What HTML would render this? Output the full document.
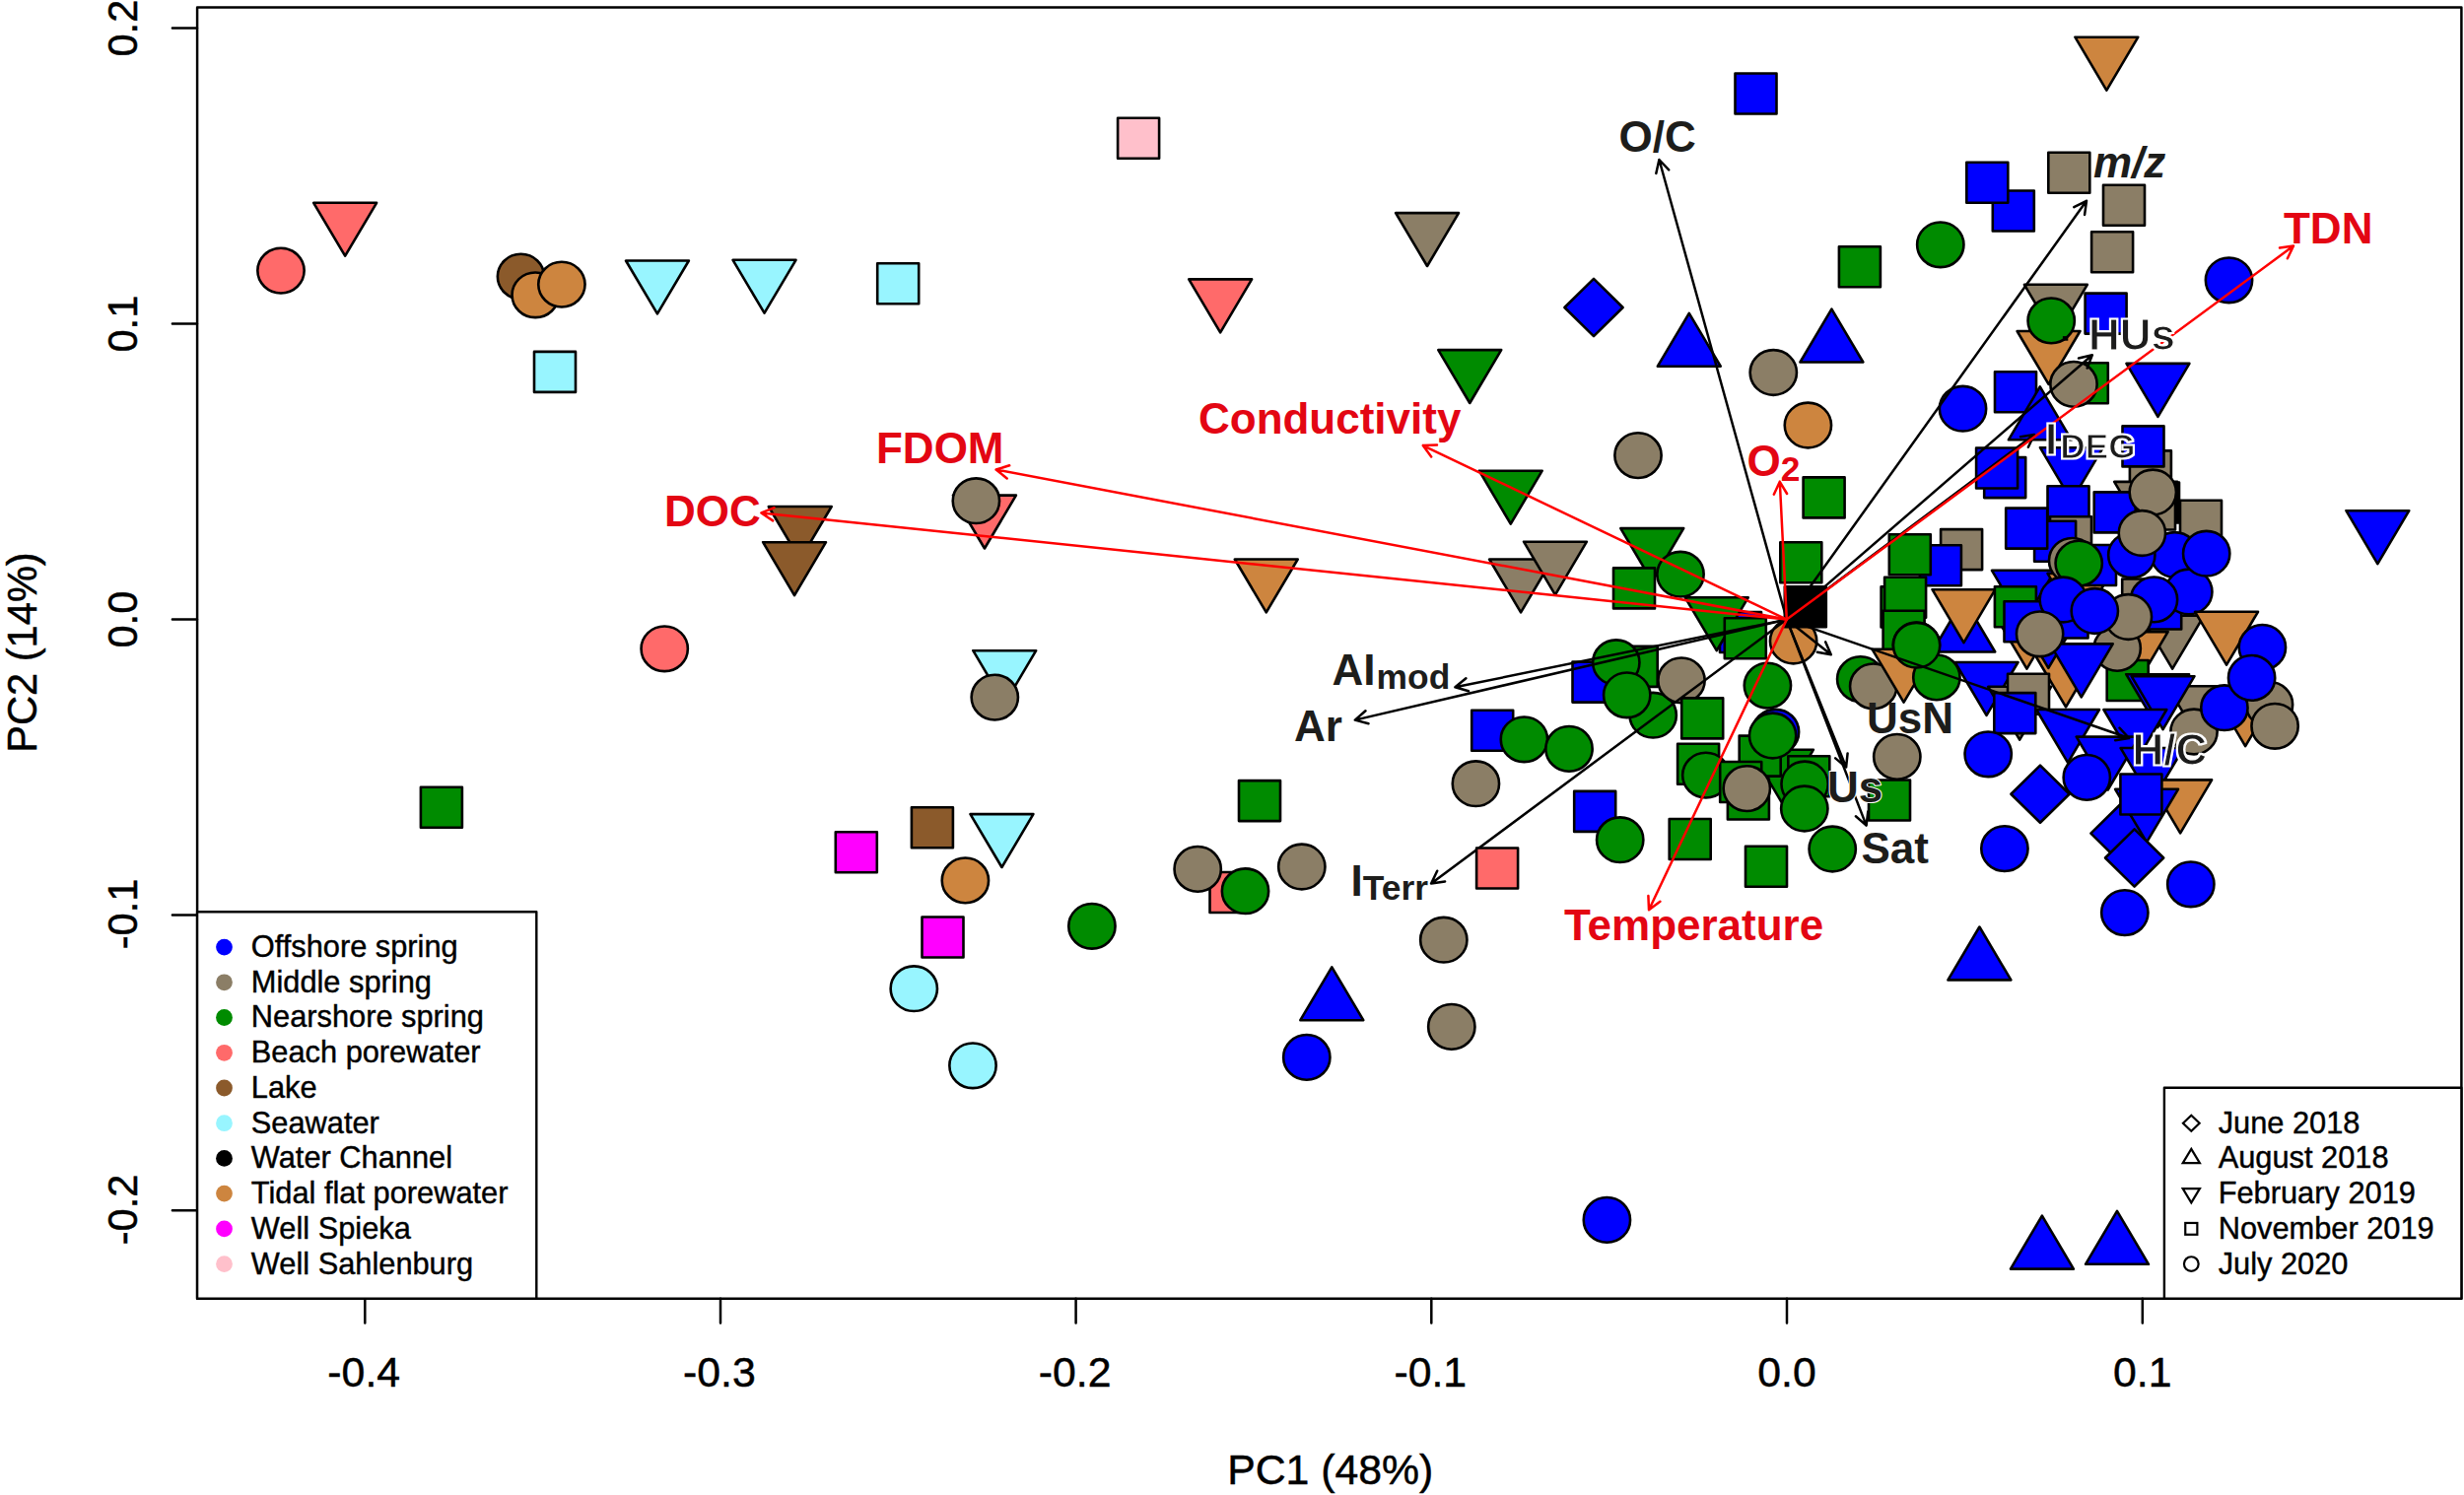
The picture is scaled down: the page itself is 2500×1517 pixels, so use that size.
<!DOCTYPE html>
<html><head><meta charset="utf-8"><title>PCA biplot</title>
<style>
html,body{margin:0;padding:0;background:#fff}
svg{display:block}
text{font-family:"Liberation Sans",Arial,Helvetica,sans-serif}
.ax{font-size:41.6px;fill:#000;stroke:#000;stroke-width:.45px}
.lg{font-size:30.1px;fill:#000;stroke:#000;stroke-width:.4px}
.b{font-weight:bold;font-size:42.8px}
.sub{font-weight:bold;font-size:33px}
.h1{stroke:#fff;stroke-width:2.8px;stroke-linejoin:round}
.h2{stroke:#fff;stroke-width:1.15px}
.h0{stroke:#fff;stroke-width:2px;stroke-linejoin:round;paint-order:stroke fill}
</style></head><body>
<svg width="2500" height="1517" viewBox="0 0 2500 1517">
<defs><filter id="hl" x="-10%" y="-25%" width="120%" height="150%"><feMorphology in="SourceAlpha" operator="dilate" radius="0.9" result="d"/><feFlood flood-color="#fff"/><feComposite in2="d" operator="in"/><feMerge><feMergeNode/><feMergeNode in="SourceGraphic"/></feMerge></filter></defs>
<rect width="2500" height="1517" fill="#fff"/>
<g stroke="#000" stroke-width="2.6" stroke-linejoin="round">
<ellipse cx="285.0" cy="274.6" rx="23.65" ry="22.85" fill="#FF6A6A"/>
<path d="M318.2 205.8h63.9l-31.95 53.9z" fill="#FF6A6A"/>
<ellipse cx="528.5" cy="280.6" rx="23.65" ry="22.85" fill="#8B5A2B"/>
<ellipse cx="543.2" cy="299.3" rx="23.65" ry="22.85" fill="#CD853F"/>
<ellipse cx="569.9" cy="288.6" rx="23.65" ry="22.85" fill="#CD853F"/>
<path d="M635.0 264.5h63.9l-31.95 53.9z" fill="#98F5FF"/>
<path d="M743.6 263.8h63.9l-31.95 53.9z" fill="#98F5FF"/>
<rect x="890.2" y="267.3" width="42.0" height="41.0" fill="#98F5FF"/>
<rect x="542.0" y="356.9" width="42.0" height="41.0" fill="#98F5FF"/>
<path d="M779.8 514.0h63.9l-31.95 53.9z" fill="#8B5A2B"/>
<path d="M774.1 550.2h63.9l-31.95 53.9z" fill="#8B5A2B"/>
<path d="M967.0 502.6h63.9l-31.95 53.9z" fill="#FF6A6A"/>
<ellipse cx="990.4" cy="508.2" rx="23.65" ry="22.85" fill="#8B7E66"/>
<ellipse cx="674.2" cy="658.3" rx="23.65" ry="22.85" fill="#FF6A6A"/>
<rect x="426.9" y="798.8" width="42.0" height="41.0" fill="#008B00"/>
<rect x="847.8" y="844.3" width="42.0" height="41.0" fill="#FF00FF"/>
<rect x="924.9" y="819.3" width="42.0" height="41.0" fill="#8B5A2B"/>
<ellipse cx="979.4" cy="893.4" rx="23.65" ry="22.85" fill="#CD853F"/>
<rect x="935.5" y="930.5" width="42.0" height="41.0" fill="#FF00FF"/>
<ellipse cx="927.3" cy="1003.2" rx="23.65" ry="22.85" fill="#98F5FF"/>
<ellipse cx="987.0" cy="1081.3" rx="23.65" ry="22.85" fill="#98F5FF"/>
<path d="M987.3 660.2h63.9l-31.95 53.9z" fill="#98F5FF"/>
<ellipse cx="1009.3" cy="707.6" rx="23.65" ry="22.85" fill="#8B7E66"/>
<path d="M984.5 826.1h63.9l-31.95 53.9z" fill="#98F5FF"/>
<ellipse cx="1107.9" cy="939.8" rx="23.65" ry="22.85" fill="#008B00"/>
<path d="M1351.3 981.3l31.95 53.9h-63.9z" fill="#0000FF"/>
<ellipse cx="1325.8" cy="1072.9" rx="23.65" ry="22.85" fill="#0000FF"/>
<ellipse cx="1464.8" cy="953.7" rx="23.65" ry="22.85" fill="#8B7E66"/>
<ellipse cx="1472.8" cy="1041.9" rx="23.65" ry="22.85" fill="#8B7E66"/>
<ellipse cx="1630.4" cy="1237.9" rx="23.65" ry="22.85" fill="#0000FF"/>
<path d="M1252.8 567.5h63.9l-31.95 53.9z" fill="#CD853F"/>
<rect x="1257.0" y="792.1" width="42.0" height="41.0" fill="#008B00"/>
<rect x="1227.5" y="885.0" width="42.0" height="41.0" fill="#FF6A6A"/>
<ellipse cx="1215.2" cy="881.9" rx="23.65" ry="22.85" fill="#8B7E66"/>
<ellipse cx="1263.5" cy="904.2" rx="23.65" ry="22.85" fill="#008B00"/>
<ellipse cx="1320.8" cy="879.5" rx="23.65" ry="22.85" fill="#8B7E66"/>
<ellipse cx="1497.4" cy="795.2" rx="23.65" ry="22.85" fill="#8B7E66"/>
<rect x="1493.2" y="720.8" width="42.0" height="41.0" fill="#0000FF"/>
<ellipse cx="1546.4" cy="750.3" rx="23.65" ry="22.85" fill="#008B00"/>
<ellipse cx="1592.0" cy="759.9" rx="23.65" ry="22.85" fill="#008B00"/>
<rect x="1597.2" y="802.9" width="42.0" height="41.0" fill="#0000FF"/>
<ellipse cx="1643.7" cy="852.2" rx="23.65" ry="22.85" fill="#008B00"/>
<rect x="1134.1" y="119.8" width="42.0" height="41.0" fill="#FFC0CB"/>
<path d="M1416.1 216.1h63.9l-31.95 53.9z" fill="#8B7E66"/>
<path d="M1206.2 283.4h63.9l-31.95 53.9z" fill="#FF6A6A"/>
<path d="M1459.3 355.1h63.9l-31.95 53.9z" fill="#008B00"/>
<path d="M1617.0 282.9l29.6 29.1l-29.6 29.1l-29.6 -29.1z" fill="#0000FF"/>
<path d="M1500.8 477.7h63.9l-31.95 53.9z" fill="#008B00"/>
<ellipse cx="1662.0" cy="462.1" rx="23.65" ry="22.85" fill="#8B7E66"/>
<path d="M1511.1 567.5h63.9l-31.95 53.9z" fill="#8B7E66"/>
<path d="M1546.0 549.7h63.9l-31.95 53.9z" fill="#8B7E66"/>
<rect x="1760.5" y="74.5" width="42.0" height="41.0" fill="#0000FF"/>
<path d="M2105.4 37.7h63.9l-31.95 53.9z" fill="#CD853F"/>
<rect x="2021.8" y="193.5" width="42.0" height="41.0" fill="#0000FF"/>
<rect x="1995.3" y="164.8" width="42.0" height="41.0" fill="#0000FF"/>
<rect x="2078.3" y="154.8" width="42.0" height="41.0" fill="#8B7E66"/>
<rect x="2134.0" y="187.8" width="42.0" height="41.0" fill="#8B7E66"/>
<rect x="2122.1" y="235.3" width="42.0" height="41.0" fill="#8B7E66"/>
<ellipse cx="1968.8" cy="248.3" rx="23.65" ry="22.85" fill="#008B00"/>
<rect x="1865.9" y="250.3" width="42.0" height="41.0" fill="#008B00"/>
<path d="M1713.8 317.8l31.95 53.9h-63.9z" fill="#0000FF"/>
<path d="M1858.4 313.6l31.95 53.9h-63.9z" fill="#0000FF"/>
<ellipse cx="2261.5" cy="284.3" rx="23.65" ry="22.85" fill="#0000FF"/>
<path d="M2157.5 368.9h63.9l-31.95 53.9z" fill="#0000FF"/>
<path d="M2053.9 288.8h63.9l-31.95 53.9z" fill="#8B7E66"/>
<rect x="2115.6" y="297.6" width="42.0" height="41.0" fill="#0000FF"/>
<path d="M2046.6 336.0h63.9l-31.95 53.9z" fill="#CD853F"/>
<ellipse cx="2081.2" cy="325.4" rx="23.65" ry="22.85" fill="#008B00"/>
<rect x="2096.8" y="368.2" width="42.0" height="41.0" fill="#008B00"/>
<ellipse cx="2104.0" cy="389.9" rx="23.65" ry="22.85" fill="#8B7E66"/>
<rect x="2024.0" y="377.2" width="42.0" height="41.0" fill="#0000FF"/>
<path d="M2069.8 392.4l31.95 53.9h-63.9z" fill="#0000FF"/>
<ellipse cx="1991.5" cy="414.7" rx="23.65" ry="22.85" fill="#0000FF"/>
<path d="M2380.4 518.2h63.9l-31.95 53.9z" fill="#0000FF"/>
<path d="M2071.9 1233.7l31.95 53.9h-63.9z" fill="#0000FF"/>
<path d="M2148.0 1228.9l31.95 53.9h-63.9z" fill="#0000FF"/>
<ellipse cx="1799.3" cy="378.0" rx="23.65" ry="22.85" fill="#8B7E66"/>
<ellipse cx="1834.4" cy="431.5" rx="23.65" ry="22.85" fill="#CD853F"/>
<rect x="1829.6" y="484.4" width="42.0" height="41.0" fill="#008B00"/>
<rect x="1806.3" y="550.3" width="42.0" height="41.0" fill="#008B00"/>
<ellipse cx="1819.6" cy="650.5" rx="23.65" ry="22.85" fill="#CD853F"/>
<rect x="1810.8" y="595.2" width="42.0" height="41.0" fill="#000000"/>
<path d="M1644.3 536.1h63.9l-31.95 53.9z" fill="#008B00"/>
<ellipse cx="1705.0" cy="582.7" rx="23.65" ry="22.85" fill="#008B00"/>
<rect x="1637.0" y="576.4" width="42.0" height="41.0" fill="#008B00"/>
<rect x="1745.0" y="621.0" width="42.0" height="41.0" fill="#0000FF"/>
<path d="M1709.8 606.3h63.9l-31.95 53.9z" fill="#008B00"/>
<rect x="1749.8" y="627.2" width="42.0" height="41.0" fill="#008B00"/>
<rect x="1969.1" y="537.1" width="42.0" height="41.0" fill="#8B7E66"/>
<rect x="1947.9" y="553.2" width="42.0" height="41.0" fill="#0000FF"/>
<rect x="1916.8" y="542.2" width="42.0" height="41.0" fill="#008B00"/>
<rect x="1908.6" y="595.4" width="42.0" height="41.0" fill="#008B00"/>
<rect x="1912.1" y="585.7" width="42.0" height="41.0" fill="#008B00"/>
<rect x="1910.6" y="619.8" width="42.0" height="41.0" fill="#008B00"/>
<path d="M1992.3 607.6l31.95 53.9h-63.9z" fill="#0000FF"/>
<path d="M1960.5 598.2h63.9l-31.95 53.9z" fill="#CD853F"/>
<ellipse cx="1944.4" cy="654.5" rx="23.65" ry="22.85" fill="#008B00"/>
<rect x="2013.2" y="464.1" width="42.0" height="41.0" fill="#0000FF"/>
<rect x="2005.1" y="454.5" width="42.0" height="41.0" fill="#0000FF"/>
<rect x="2160.9" y="457.4" width="42.0" height="41.0" fill="#8B7E66"/>
<rect x="2153.5" y="432.4" width="42.0" height="41.0" fill="#0000FF"/>
<path d="M2145.2 488.9h63.9l-31.95 53.9z" fill="#8B7E66"/>
<rect x="2169.0" y="489.5" width="42.0" height="41.0" fill="#000000"/>
<rect x="2165.0" y="496.5" width="42.0" height="41.0" fill="#8B7E66"/>
<rect x="2212.0" y="507.7" width="42.0" height="41.0" fill="#8B7E66"/>
<path d="M2069.9 454.2h63.9l-31.95 53.9z" fill="#0000FF"/>
<rect x="2077.5" y="493.3" width="42.0" height="41.0" fill="#0000FF"/>
<rect x="2080.0" y="524.2" width="42.0" height="41.0" fill="#8B7E66"/>
<rect x="2064.1" y="528.7" width="42.0" height="41.0" fill="#0000FF"/>
<rect x="2035.2" y="515.6" width="42.0" height="41.0" fill="#0000FF"/>
<rect x="2124.7" y="499.4" width="42.0" height="41.0" fill="#0000FF"/>
<rect x="1595.5" y="671.6" width="42.0" height="41.0" fill="#0000FF"/>
<rect x="1639.7" y="655.9" width="42.0" height="41.0" fill="#008B00"/>
<ellipse cx="1639.8" cy="672.2" rx="23.65" ry="22.85" fill="#008B00"/>
<ellipse cx="1677.2" cy="725.7" rx="23.65" ry="22.85" fill="#008B00"/>
<ellipse cx="1650.7" cy="705.3" rx="23.65" ry="22.85" fill="#008B00"/>
<ellipse cx="1706.0" cy="690.4" rx="23.65" ry="22.85" fill="#8B7E66"/>
<rect x="1706.2" y="708.4" width="42.0" height="41.0" fill="#008B00"/>
<rect x="1702.1" y="754.7" width="42.0" height="41.0" fill="#008B00"/>
<ellipse cx="1730.8" cy="786.6" rx="23.65" ry="22.85" fill="#008B00"/>
<ellipse cx="1793.4" cy="695.6" rx="23.65" ry="22.85" fill="#008B00"/>
<ellipse cx="1801.5" cy="742.7" rx="23.65" ry="22.85" fill="#0000FF"/>
<path d="M1776.0 760.7h63.9l-31.95 53.9z" fill="#008B00"/>
<rect x="1764.7" y="746.6" width="42.0" height="41.0" fill="#008B00"/>
<ellipse cx="1798.6" cy="746.5" rx="23.65" ry="22.85" fill="#008B00"/>
<rect x="1752.9" y="790.5" width="42.0" height="41.0" fill="#008B00"/>
<rect x="1745.2" y="773.0" width="42.0" height="41.0" fill="#008B00"/>
<ellipse cx="1772.3" cy="800.1" rx="23.65" ry="22.85" fill="#8B7E66"/>
<rect x="1814.3" y="767.3" width="42.0" height="41.0" fill="#008B00"/>
<ellipse cx="1831.1" cy="795.5" rx="23.65" ry="22.85" fill="#008B00"/>
<ellipse cx="1830.8" cy="820.5" rx="23.65" ry="22.85" fill="#008B00"/>
<rect x="1896.0" y="791.5" width="42.0" height="41.0" fill="#008B00"/>
<ellipse cx="1924.8" cy="767.9" rx="23.65" ry="22.85" fill="#8B7E66"/>
<ellipse cx="1887.7" cy="689.1" rx="23.65" ry="22.85" fill="#008B00"/>
<ellipse cx="1900.7" cy="696.4" rx="23.65" ry="22.85" fill="#8B7E66"/>
<path d="M1899.6 658.8h63.9l-31.95 53.9z" fill="#CD853F"/>
<ellipse cx="1964.9" cy="687.4" rx="23.65" ry="22.85" fill="#008B00"/>
<ellipse cx="1944.6" cy="654.7" rx="23.65" ry="22.85" fill="#008B00"/>
<rect x="1693.7" y="831.0" width="42.0" height="41.0" fill="#008B00"/>
<rect x="1771.0" y="858.8" width="42.0" height="41.0" fill="#008B00"/>
<ellipse cx="1859.2" cy="861.5" rx="23.65" ry="22.85" fill="#008B00"/>
<path d="M2021.0 578.8h63.9l-31.95 53.9z" fill="#0000FF"/>
<path d="M2024.5 624.7h63.9l-31.95 53.9z" fill="#CD853F"/>
<path d="M2064.1 663.5h63.9l-31.95 53.9z" fill="#CD853F"/>
<path d="M2046.4 624.0h63.9l-31.95 53.9z" fill="#0000FF"/>
<rect x="2023.9" y="595.3" width="42.0" height="41.0" fill="#008B00"/>
<rect x="2033.5" y="610.3" width="42.0" height="41.0" fill="#0000FF"/>
<path d="M1983.6 672.0h63.9l-31.95 53.9z" fill="#0000FF"/>
<path d="M2017.2 696.8h63.9l-31.95 53.9z" fill="#8B7E66"/>
<rect x="2037.0" y="683.8" width="42.0" height="41.0" fill="#8B7E66"/>
<rect x="2023.3" y="703.1" width="42.0" height="41.0" fill="#0000FF"/>
<ellipse cx="2017.2" cy="765.3" rx="23.65" ry="22.85" fill="#0000FF"/>
<rect x="2153.2" y="587.5" width="42.0" height="41.0" fill="#8B7E66"/>
<path d="M2077.5 581.9h63.9l-31.95 53.9z" fill="#CD853F"/>
<rect x="2105.0" y="553.0" width="42.0" height="41.0" fill="#0000FF"/>
<rect x="2076.5" y="606.5" width="42.0" height="41.0" fill="#0000FF"/>
<ellipse cx="2102.6" cy="568.8" rx="23.65" ry="22.85" fill="#8B7E66"/>
<ellipse cx="2109.2" cy="571.6" rx="23.65" ry="22.85" fill="#008B00"/>
<ellipse cx="2093.3" cy="608.5" rx="23.65" ry="22.85" fill="#0000FF"/>
<path d="M2172.2 624.8h63.9l-31.95 53.9z" fill="#8B7E66"/>
<path d="M2135.7 641.1h63.9l-31.95 53.9z" fill="#CD853F"/>
<rect x="2171.2" y="597.5" width="42.0" height="41.0" fill="#0000FF"/>
<rect x="2137.7" y="670.0" width="42.0" height="41.0" fill="#008B00"/>
<ellipse cx="2148.2" cy="657.9" rx="23.65" ry="22.85" fill="#8B7E66"/>
<ellipse cx="2206.5" cy="563.0" rx="23.65" ry="22.85" fill="#0000FF"/>
<ellipse cx="2220.8" cy="600.5" rx="23.65" ry="22.85" fill="#0000FF"/>
<ellipse cx="2185.5" cy="608.4" rx="23.65" ry="22.85" fill="#0000FF"/>
<ellipse cx="2159.4" cy="626.0" rx="23.65" ry="22.85" fill="#8B7E66"/>
<ellipse cx="2125.3" cy="620.0" rx="23.65" ry="22.85" fill="#0000FF"/>
<ellipse cx="2162.8" cy="563.3" rx="23.65" ry="22.85" fill="#0000FF"/>
<ellipse cx="2238.7" cy="561.7" rx="23.65" ry="22.85" fill="#0000FF"/>
<path d="M2079.8 653.4h63.9l-31.95 53.9z" fill="#0000FF"/>
<ellipse cx="2069.6" cy="643.3" rx="23.65" ry="22.85" fill="#8B7E66"/>
<path d="M2227.1 620.8h63.9l-31.95 53.9z" fill="#CD853F"/>
<ellipse cx="2295.4" cy="656.9" rx="23.65" ry="22.85" fill="#0000FF"/>
<path d="M2246.2 703.2h63.9l-31.95 53.9z" fill="#CD853F"/>
<path d="M2199.1 696.2h63.9l-31.95 53.9z" fill="#8B7E66"/>
<ellipse cx="2302.5" cy="714.9" rx="23.65" ry="22.85" fill="#8B7E66"/>
<ellipse cx="2308.1" cy="736.8" rx="23.65" ry="22.85" fill="#8B7E66"/>
<path d="M2157.2 684.2h63.9l-31.95 53.9z" fill="#0000FF"/>
<path d="M2162.6 686.2h63.9l-31.95 53.9z" fill="#0000FF"/>
<ellipse cx="2226.0" cy="742.5" rx="23.65" ry="22.85" fill="#8B7E66"/>
<ellipse cx="2256.9" cy="718.2" rx="23.65" ry="22.85" fill="#0000FF"/>
<ellipse cx="2284.6" cy="687.9" rx="23.65" ry="22.85" fill="#0000FF"/>
<path d="M2134.4 720.0h63.9l-31.95 53.9z" fill="#0000FF"/>
<path d="M2066.1 720.0h63.9l-31.95 53.9z" fill="#0000FF"/>
<path d="M2106.7 747.6h63.9l-31.95 53.9z" fill="#0000FF"/>
<path d="M2151.6 759.0h63.9l-31.95 53.9z" fill="#0000FF"/>
<ellipse cx="2117.3" cy="788.9" rx="23.65" ry="22.85" fill="#0000FF"/>
<path d="M2070.0 776.6l29.6 29.1l-29.6 29.1l-29.6 -29.1z" fill="#0000FF"/>
<path d="M2151.0 816.5l29.6 29.1l-29.6 29.1l-29.6 -29.1z" fill="#0000FF"/>
<path d="M2180.2 791.4h63.9l-31.95 53.9z" fill="#CD853F"/>
<path d="M2146.1 800.8h63.9l-31.95 53.9z" fill="#0000FF"/>
<rect x="2151.4" y="785.5" width="42.0" height="41.0" fill="#0000FF"/>
<path d="M2165.6 841.4l29.6 29.1l-29.6 29.1l-29.6 -29.1z" fill="#0000FF"/>
<ellipse cx="2033.9" cy="861.1" rx="23.65" ry="22.85" fill="#0000FF"/>
<ellipse cx="2222.8" cy="897.3" rx="23.65" ry="22.85" fill="#0000FF"/>
<ellipse cx="2155.8" cy="926.1" rx="23.65" ry="22.85" fill="#0000FF"/>
<path d="M2008.4 940.5l31.95 53.9h-63.9z" fill="#0000FF"/>
<ellipse cx="2184.3" cy="499.5" rx="23.65" ry="22.85" fill="#8B7E66"/>
<ellipse cx="2173.4" cy="541.0" rx="23.65" ry="22.85" fill="#8B7E66"/>
</g>
<g fill="none" stroke-width="2.5" stroke-linecap="round" stroke-linejoin="round">
<path d="M1812.8 628.6L1683.4 162.0M1680.3 175.9L1683.4 162.0L1693.2 172.3" stroke="#000"/>
<path d="M1812.8 628.6L2117.0 203.8M2104.3 210.1L2117.0 203.8L2115.1 217.9" stroke="#000"/>
<path d="M1812.8 628.6L2122.8 360.3M2109.0 363.5L2122.8 360.3L2117.7 373.5" stroke="#000"/>
<path d="M1812.8 628.6L1476.4 697.3M1490.0 701.3L1476.4 697.3L1487.4 688.3" stroke="#000"/>
<path d="M1812.8 628.6L1374.8 730.6M1388.5 734.2L1374.8 730.6L1385.5 721.3" stroke="#000"/>
<path d="M1812.8 628.6L1452.1 896.5M1466.1 894.4L1452.1 896.5L1458.2 883.7" stroke="#000"/>
<path d="M1812.8 628.6L1857.8 664.3M1852.1 651.3L1857.8 664.3L1843.8 661.7" stroke="#000"/>
<path d="M1812.8 628.6L2064.0 441.0M2050.0 443.2L2064.0 441.0L2057.9 453.8" stroke="#000"/>
<path d="M1812.8 628.6L1873.1 778.5M1874.6 764.4L1873.1 778.5L1862.2 769.4" stroke="#000"/>
<path d="M1812.8 628.6L1893.6 837.6M1895.3 823.5L1893.6 837.6L1882.9 828.3" stroke="#000"/>
<path d="M1812.8 628.6L2160.2 749.0M2150.5 738.6L2160.2 749.0L2146.2 751.2" stroke="#000"/>
<path d="M1812.8 628.6L772.4 520.5M784.2 528.4L772.4 520.5L785.6 515.2" stroke="#FF0000"/>
<path d="M1812.8 628.6L1010.6 476.5M1021.7 485.4L1010.6 476.5L1024.2 472.3" stroke="#FF0000"/>
<path d="M1812.8 628.6L1443.8 452.1M1452.2 463.5L1443.8 452.1L1458.0 451.5" stroke="#FF0000"/>
<path d="M1812.8 628.6L1805.8 488.8M1799.8 501.7L1805.8 488.8L1813.1 501.0" stroke="#FF0000"/>
<path d="M1812.8 628.6L2327.0 249.5M2313.0 251.6L2327.0 249.5L2320.9 262.3" stroke="#FF0000"/>
<path d="M1812.8 628.6L1673.0 923.2M1684.4 914.7L1673.0 923.2L1672.4 909.0" stroke="#FF0000"/>
</g>
<g stroke="#000" stroke-width="2.6" stroke-linejoin="round">
<rect x="1498.1" y="860.5" width="42.0" height="41.0" fill="#FF6A6A"/>
</g>
<rect x="2092.9" y="341.1" width="5.4" height="4.6" fill="#000"/>
<g fill="#E30613">
<text class="b" transform="translate(674 534.3) scale(1.028 1.036)">DOC</text>
<text class="b" transform="translate(889 470.4) scale(1.028 1.036)">FDOM</text>
<text class="b" transform="translate(1216 439.7) scale(1.028 1.036)">Conductivity</text>
<text class="b" transform="translate(1772.5 483.1) scale(1.028 1.036)">O<tspan dx="0" dy="4.6" font-size="34.4">2</tspan></text>
<text class="b" transform="translate(2317 246.8) scale(1.028 1.036)">TDN</text>
<text class="b" transform="translate(1587 954.2) scale(1.028 1.036)">Temperature</text>
</g>
<g fill="#1d1d1b">
<text class="b" transform="translate(1642.5 154.3) scale(1.028 1.036)">O/C</text>
<text class="b" font-style="italic" transform="translate(2124 180.0) scale(1.028 1.036)">m/z</text>
<text class="b" transform="translate(1351.6 694.6) scale(1.028 1.036)">AI<tspan dx="1" dy="4.5" font-size="34.4">mod</tspan></text>
<text class="b" transform="translate(1313 751.9) scale(1.028 1.036)">Ar</text>
<text class="b" transform="translate(1370.5 909.2) scale(1.028 1.036)">I<tspan dx="0" dy="4.0" font-size="34.4">Terr</tspan></text>
<text class="b" transform="translate(1894 744.0) scale(1.028 1.036)">UsN</text>
<text class="b" transform="translate(1888.5 875.5) scale(1.028 1.036)">Sat</text>
<text class="b h0" transform="translate(1854 813.9) scale(1.028 1.036)">Us</text>
<text class="b h2" filter="url(#hl)" transform="translate(2163.5 775.5) scale(1.028 1.036)">H/C</text>
<text class="b h2" filter="url(#hl)" transform="translate(2119 354.9) scale(1.028 1.036)">HUs</text>
<text class="b h2" filter="url(#hl)" transform="translate(2075 461.0) scale(1.028 1.036)">I<tspan dx="3" dy="4" font-size="34.2">DEG</tspan></text>
</g>
<g fill="none" stroke="#000" stroke-width="2.5" stroke-linecap="round" stroke-linejoin="round">
<rect x="200.1" y="7.4" width="2297.3" height="1310.4"/>
<path d="M174.9 28.5H200M174.9 328.5H200M174.9 628.5H200M174.9 928.4H200M174.9 1228.3H200"/>
<path d="M370.3 1317.8v24.8M731 1317.8v24.8M1091.6 1317.8v24.8M1452.3 1317.8v24.8M1813 1317.8v24.8M2173.8 1317.8v24.8"/>
</g>
<g class="ax">
<text text-anchor="middle" transform="translate(369.2 1407.3) scale(1.028 1.036)">-0.4</text><text text-anchor="middle" transform="translate(729.9 1407.3) scale(1.028 1.036)">-0.3</text><text text-anchor="middle" transform="translate(1090.6 1407.3) scale(1.028 1.036)">-0.2</text><text text-anchor="middle" transform="translate(1451.3 1407.3) scale(1.028 1.036)">-0.1</text><text text-anchor="middle" transform="translate(1813 1407.3) scale(1.028 1.036)">0.0</text><text text-anchor="middle" transform="translate(2173.8 1407.3) scale(1.028 1.036)">0.1</text><text text-anchor="middle" transform="translate(1349.7 1506.3) scale(1.028 1.036)">PC1 (48%)</text><text text-anchor="middle" transform="translate(139 28.6) scale(1.035 1) rotate(-90)">0.2</text><text text-anchor="middle" transform="translate(139 328.6) scale(1.035 1) rotate(-90)">0.1</text><text text-anchor="middle" transform="translate(139 628.6) scale(1.035 1) rotate(-90)">0.0</text><text text-anchor="middle" transform="translate(139 927.4) scale(1.035 1) rotate(-90)">-0.1</text><text text-anchor="middle" transform="translate(139 1227.4) scale(1.035 1) rotate(-90)">-0.2</text><text text-anchor="middle" transform="translate(36.5 662) scale(1.035 1) rotate(-90)">PC2 (14%)</text>
</g>
<g stroke="#000" stroke-width="2.4" fill="#fff" stroke-linejoin="round"><rect x="200.1" y="925.3" width="344.2" height="392.5"/><rect x="2195.9" y="1103.7" width="301.5" height="214.1"/></g>
<circle cx="227.5" cy="961.1" r="8.4" fill="#0000FF"/><text class="lg" transform="translate(254.8 971.0) scale(1.023 1.025)">Offshore spring</text>
<circle cx="227.5" cy="996.8" r="8.4" fill="#8B7E66"/><text class="lg" transform="translate(254.8 1006.7) scale(1.023 1.025)">Middle spring</text>
<circle cx="227.5" cy="1032.5" r="8.4" fill="#008B00"/><text class="lg" transform="translate(254.8 1042.4) scale(1.023 1.025)">Nearshore spring</text>
<circle cx="227.5" cy="1068.3" r="8.4" fill="#FF6A6A"/><text class="lg" transform="translate(254.8 1078.2) scale(1.023 1.025)">Beach porewater</text>
<circle cx="227.5" cy="1104.0" r="8.4" fill="#8B5A2B"/><text class="lg" transform="translate(254.8 1113.9) scale(1.023 1.025)">Lake</text>
<circle cx="227.5" cy="1139.7" r="8.4" fill="#98F5FF"/><text class="lg" transform="translate(254.8 1149.6) scale(1.023 1.025)">Seawater</text>
<circle cx="227.5" cy="1175.4" r="8.4" fill="#000000"/><text class="lg" transform="translate(254.8 1185.3) scale(1.023 1.025)">Water Channel</text>
<circle cx="227.5" cy="1211.1" r="8.4" fill="#CD853F"/><text class="lg" transform="translate(254.8 1221.0) scale(1.023 1.025)">Tidal flat porewater</text>
<circle cx="227.5" cy="1246.9" r="8.4" fill="#FF00FF"/><text class="lg" transform="translate(254.8 1256.8) scale(1.023 1.025)">Well Spieka</text>
<circle cx="227.5" cy="1282.6" r="8.4" fill="#FFC0CB"/><text class="lg" transform="translate(254.8 1292.5) scale(1.023 1.025)">Well Sahlenburg</text>
<g fill="none" stroke="#000" stroke-width="2.2"><path d="M2223.3 1131.7l8.35 8.0l-8.35 8.0l-8.35 -8.0z"/></g><text class="lg" transform="translate(2250.7 1149.6) scale(1.023 1.025)">June 2018</text>
<g fill="none" stroke="#000" stroke-width="2.2"><path d="M2223.3 1165.92l8.6 14.3h-17.2z"/></g><text class="lg" transform="translate(2250.7 1185.3) scale(1.023 1.025)">August 2018</text>
<g fill="none" stroke="#000" stroke-width="2.2"><path d="M2223.3 1220.44l8.6 -14.3h-17.2z"/></g><text class="lg" transform="translate(2250.7 1221.0) scale(1.023 1.025)">February 2019</text>
<g fill="none" stroke="#000" stroke-width="2.2"><rect x="2217.25" y="1240.96" width="12.1" height="11.8"/></g><text class="lg" transform="translate(2250.7 1256.8) scale(1.023 1.025)">November 2019</text>
<g fill="none" stroke="#000" stroke-width="2.2"><circle cx="2223.3" cy="1282.58" r="7.35"/></g><text class="lg" transform="translate(2250.7 1292.5) scale(1.023 1.025)">July 2020</text>
</svg></body></html>
